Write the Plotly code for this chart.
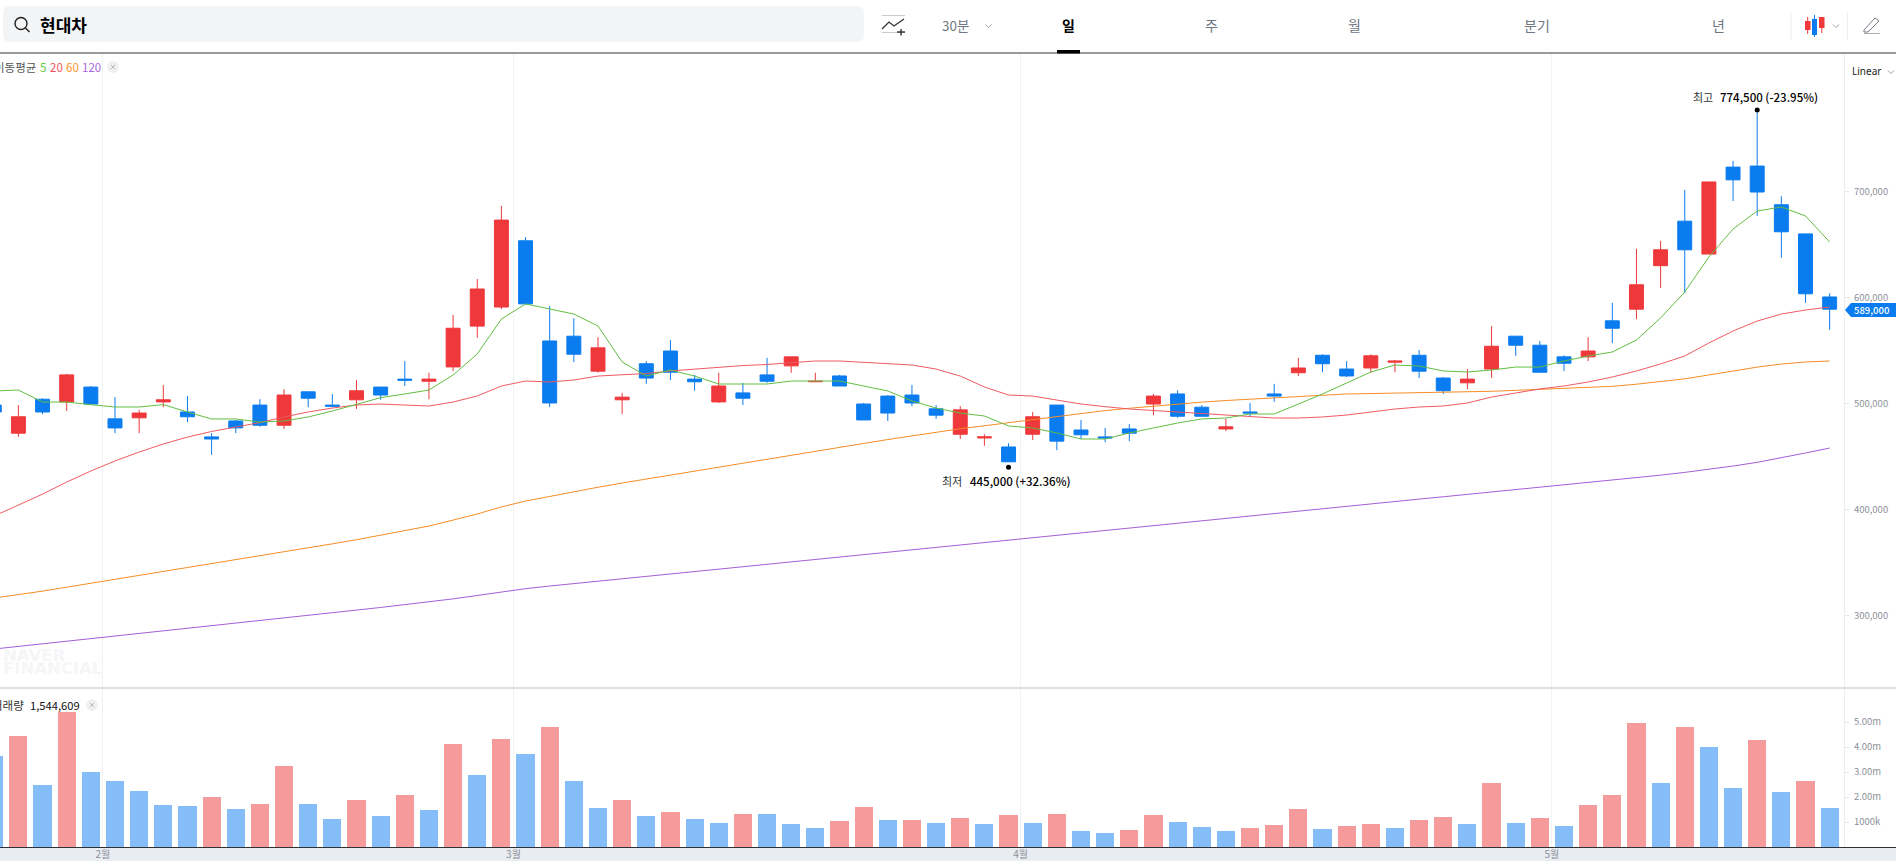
import plotly.graph_objects as go

W, H = 1896, 861

MONTHS = ["2월", "3월", "4월", "5월"]
MONTH_POS = [3.5, 20.5, 41.5, 63.5]

OPEN = [498500,472000,504000,501500,515500,485500,486500,501500,492000,468500,483500,498500,479500,511000,498500,503500,515500,523000,521000,534500,573000,591000,653500,559000,563500,530500,503500,537500,549500,523000,501500,510000,527000,535500,520500,526000,499500,507000,508000,495000,471000,467500,459000,471000,498500,475000,468500,476000,499500,509000,496500,476000,492000,509000,529000,545500,532500,533500,539000,545500,524000,519500,532500,563500,555000,544000,544000,578000,589000,630000,672000,641000,723000,724000,687500,660000,600500]
HIGH = [498500,498500,505000,528000,516500,506000,494000,517500,507000,472000,484500,504000,513500,511000,509000,522000,515500,540000,529000,583500,617500,686500,657000,592000,580500,562500,510000,540000,560000,527000,529000,519500,543000,544000,529000,527000,500500,508000,517500,498500,497500,471000,462500,492000,498500,484500,477000,480500,509000,512500,498500,485500,500500,518500,543000,546500,540000,546500,541000,550500,525000,532500,573000,563500,559000,545500,562500,595000,646000,653500,701500,709000,729000,774500,695500,660000,604000]
LOW = [492000,468500,490000,493000,499500,472000,472000,496500,482500,451500,472000,478000,476000,496500,496500,495000,503500,516500,504000,530500,562000,589000,594000,496500,539000,529000,490000,518500,522000,512000,500500,498500,519500,529000,520500,516500,484500,483500,497500,485500,466500,460000,445000,465500,456000,466500,463500,464500,489000,486500,488000,474000,488000,501500,526000,529500,525000,529000,529500,524000,509000,513500,524000,545000,529500,530500,540000,557000,579500,609000,604000,641000,691000,677000,637500,595000,569500]
CLOSE = [492000,487500,492000,527000,499500,477000,491000,503500,487500,466500,477000,479500,508000,505000,497500,512000,508000,522000,523000,571000,608000,673000,594000,500500,546500,552500,506000,524000,529500,520500,516500,505000,521000,544000,521000,516500,484500,491000,500500,489000,494000,468500,445000,487500,464500,470500,467500,472000,507000,488000,488000,478000,491000,507000,533500,537500,526000,545000,540000,530500,512000,523000,554000,555000,529500,538000,549500,571000,612000,645000,645000,709000,711000,699500,662000,603500,589000]

MA5 = [511800,512700,501400,501400,498900,496700,496700,498900,492000,485400,485400,482500,483500,487300,492900,499500,505500,509000,512700,526900,546700,579700,593900,589200,584400,573100,539200,525900,531600,525900,518400,518400,518400,521200,521200,521200,516500,511800,502400,495700,491000,488200,478800,476900,472200,466500,466500,472200,476900,481600,485400,486300,490100,490100,499500,509000,519300,529700,536300,535400,530700,529700,531600,534400,534400,540100,544800,548600,559900,580700,605200,638200,664600,681600,685400,676900,652400]
MA20 = [393900,404200,414500,425900,436300,445800,454200,461800,468300,473600,477800,482000,487300,492000,495700,498600,499500,498600,497600,501400,507100,516500,521200,520300,522200,525900,526900,528300,530700,532500,534400,535800,536800,538200,540100,540100,538700,537300,536300,532500,525900,515600,508000,507000,503300,499500,497000,494800,493400,492000,490500,489100,487300,486300,486300,487300,489100,492000,494800,496700,497600,500500,506100,509900,513700,516500,520300,525000,530700,537300,544800,557100,568400,577800,584400,588200,591000]
MA60 = [316500,319500,323000,326700,330400,334000,337700,341300,345000,348600,352200,356000,359800,363700,367600,371500,375600,379800,384400,390000,395800,402400,408000,412300,416800,421000,425000,428800,432600,436400,440100,443800,447500,451200,454900,458600,462300,466000,469600,473000,476200,479000,481800,484700,487800,490800,493300,495500,497600,499500,501300,502800,504100,505400,507000,508200,509000,509400,509800,510000,510300,510800,511500,512400,513300,514200,515000,516200,518200,520500,523300,526900,530700,534300,537200,539200,540100]
MA120 = [268400,270800,273300,275700,278200,280600,283100,285500,288000,290400,292900,295300,297800,300200,302700,305100,307600,310100,312800,315700,318900,322300,325300,327800,330000,332300,334600,336800,339100,341400,343700,346000,348300,350600,352900,355200,357500,359800,362100,364400,366700,369000,371300,373600,375900,378200,380500,382800,385100,387400,389700,392000,394300,396600,398800,401000,403200,405400,407600,409800,412000,414200,416400,418600,420800,423000,425300,427600,430000,432400,435000,437800,441000,444500,448600,453300,458000]

VOLUME = [3640000,4440000,2480000,5400000,3000000,2640000,2240000,1680000,1640000,2000000,1520000,1720000,3240000,1720000,1120000,1880000,1240000,2080000,1480000,4120000,2880000,4320000,3720000,4800000,2640000,1560000,1880000,1240000,1400000,1120000,960000,1320000,1320000,920000,760000,1040000,1600000,1080000,1080000,960000,1160000,920000,1280000,960000,1320000,640000,560000,680000,1280000,1000000,800000,640000,760000,880000,1520000,720000,840000,920000,760000,1080000,1200000,920000,2560000,960000,1160000,840000,1680000,2080000,4960000,2560000,4800000,4000000,2360000,4280000,2200000,2640000,1544609]
VOL_UP = [0,1,0,1,0,0,0,0,0,1,0,1,1,0,0,1,0,1,0,1,0,1,0,1,0,0,1,0,1,0,0,1,0,0,0,1,1,0,1,0,1,0,1,0,1,0,0,1,1,0,0,0,1,1,1,0,1,1,0,1,1,0,1,0,1,0,1,1,1,0,1,0,0,1,0,1,0]

PRICE_TICKS = [300000, 400000, 500000, 600000, 700000]
PRICE_TICK_TEXT = ["300,000", "400,000", "500,000", "600,000", "700,000"]
VOL_TICKS = [1000000, 2000000, 3000000, 4000000, 5000000]
VOL_TICK_TEXT = ["1000k", "2.00m", "3.00m", "4.00m", "5.00m"]

INDEX = list(range(-1, len(OPEN) - 1))
RED, BLUE = "#EF383B", "#0A7CEF"
CJK = "Noto Sans CJK KR"


def px(x):
    return x / W


def py(y):
    return 1 - y / H


fig = go.Figure()
fig.add_trace(go.Candlestick(
    x=INDEX, open=OPEN, high=HIGH, low=LOW, close=CLOSE,
    increasing=dict(line=dict(color=RED, width=1), fillcolor=RED),
    decreasing=dict(line=dict(color=BLUE, width=1), fillcolor=BLUE),
    whiskerwidth=0, xaxis="x", yaxis="y", showlegend=False, hoverinfo="skip",
))
for vals, col in [(MA120, "#A45FD6"), (MA60, "#F88C25"), (MA20, "#EE5A62"), (MA5, "#62BE42")]:
    fig.add_trace(go.Scatter(x=INDEX, y=vals, mode="lines", line=dict(color=col, width=1),
                             xaxis="x", yaxis="y", showlegend=False, hoverinfo="skip"))
fig.add_trace(go.Bar(
    x=INDEX, y=VOLUME, width=0.75,
    marker=dict(color=["#F59B9C" if u else "#85BDF8" for u in VOL_UP], line=dict(width=0)),
    xaxis="x2", yaxis="y2", showlegend=False, hoverinfo="skip",
))

shapes = []


def rect(x0, y0, x1, y1, fill, layer="below"):
    shapes.append(dict(type="rect", xref="paper", yref="paper", x0=px(x0), x1=px(x1), y0=py(y1), y1=py(y0),
                       fillcolor=fill, line=dict(width=0), layer=layer))


def line(x0, y0, x1, y1, col, w=1, layer="above"):
    shapes.append(dict(type="line", xref="paper", yref="paper", x0=px(x0), x1=px(x1), y0=py(y0), y1=py(y1),
                       line=dict(color=col, width=w), layer=layer))


def circle(cx, cy, r, fill="rgba(0,0,0,0)", col=None, w=1):
    shapes.append(dict(type="circle", xref="paper", yref="paper", x0=px(cx - r), x1=px(cx + r),
                       y0=py(cy + r), y1=py(cy - r), fillcolor=fill,
                       line=dict(color=col or fill, width=w if col else 0), layer="above"))


def path(points, fill=None, col=None, w=1):
    d = "M" + " L".join(f"{px(a):.5f},{py(b):.5f}" for a, b in points)
    if fill:
        d += " Z"
    shapes.append(dict(type="path", xref="paper", yref="paper", path=d, fillcolor=fill or "rgba(0,0,0,0)",
                       line=dict(color=col or "rgba(0,0,0,0)", width=w if col else 0), layer="above"))


def chevron(cx, cy, col="#9AA0A8"):
    path([(cx - 3, cy - 1.5), (cx, cy + 1.5), (cx + 3, cy - 1.5)], col=col)


# search bar
x0, x1, y0, y1, r = 3, 864, 6, 42, 7
shapes.append(dict(
    type="path", xref="paper", yref="paper", layer="below", fillcolor="#F3F4F6", line=dict(width=0),
    path=(f"M{px(x0 + r)},{py(y0)} L{px(x1 - r)},{py(y0)} Q{px(x1)},{py(y0)} {px(x1)},{py(y0 + r)} "
          f"L{px(x1)},{py(y1 - r)} Q{px(x1)},{py(y1)} {px(x1 - r)},{py(y1)} L{px(x0 + r)},{py(y1)} "
          f"Q{px(x0)},{py(y1)} {px(x0)},{py(y1 - r)} L{px(x0)},{py(y0 + r)} Q{px(x0)},{py(y0)} {px(x0 + r)},{py(y0)} Z"),
))
circle(21, 23.5, 6, col="#222222", w=1.4)
line(25.5, 28, 29.5, 32, "#222222", 1.5)

# header
line(0, 53, W, 53, "#33363A", 1.2)
rect(1057, 50, 1080, 53.5, "#000000", layer="above")
line(882, 15.5, 905, 15.5, "#C9CCD2", 1)
line(882, 32.5, 905, 32.5, "#C9CCD2", 1)
path([(882, 29), (889, 22), (894, 26), (904, 19)], col="#333333", w=1.3)
line(897, 32, 905, 32, "#222222", 1.3)
line(901, 29, 901, 35.5, "#222222", 1.3)
chevron(988.5, 26)
line(1791, 12, 1791, 40, "#ECEEF0")
line(1847.5, 12, 1847.5, 40, "#ECEEF0")
line(1807.7, 17, 1807.7, 34, RED)
rect(1805, 21, 1810.5, 30, RED, layer="above")
line(1814.5, 15, 1814.5, 37, BLUE)
rect(1812, 19, 1817, 35, BLUE, layer="above")
line(1821.8, 17, 1821.8, 33, RED)
rect(1819, 17, 1824.5, 28, RED, layer="above")
chevron(1836, 26)
path([(1864, 30), (1875, 18), (1879, 21), (1868, 32), (1864, 32), (1864, 30)], col="#777B82")
line(1864, 33.5, 1880, 33.5, "#A8ACB2")

# panels
rect(0, 848, W, H, "#E9ECF1")
line(0, 688, W, 688, "#BCC4CB", 1.2)
line(0, 847.5, W, 847.5, "#2E3135", 1.2)
circle(113, 67, 6, fill="#F0F0F2")
line(110.8, 64.8, 115.2, 69.2, "#BBBBBB")
line(110.8, 69.2, 115.2, 64.8, "#BBBBBB")
circle(92, 705, 6, fill="#F0F0F2")
line(89.8, 702.8, 94.2, 707.2, "#BBBBBB")
line(89.8, 707.2, 94.2, 702.8, "#BBBBBB")
chevron(1891, 72)

# last price tag
path([(1845, 310), (1851, 303), (1896, 303), (1896, 317), (1851, 317)], fill=BLUE)

# high / low dots anchored to the data
hi = max(range(len(HIGH)), key=lambda k: HIGH[k])
lo = min(range(len(LOW)), key=lambda k: LOW[k])
for i, val, a, b in [(hi, HIGH[hi], 0, 5), (lo, LOW[lo], -8, -3)]:
    shapes.append(dict(type="circle", xref="x", yref="y", xsizemode="pixel", ysizemode="pixel",
                       xanchor=INDEX[i], yanchor=val, x0=-2.5, x1=2.5, y0=a, y1=b,
                       fillcolor="#000000", line=dict(width=0), layer="above"))

ann = []


def text(x, y, s, size=12, col="#000000", anchor="left", weight=None, family=CJK):
    f = dict(family=family, size=size, color=col)
    if weight:
        f["weight"] = weight
    ann.append(dict(xref="paper", yref="paper", x=px(x), y=py(y), text=s, showarrow=False, xanchor=anchor,
                    yanchor="middle", font=f, align=anchor, borderpad=0))


text(38.5, 24.5, "현대차", 17, "#000000", weight=700)
text(955.5, 25.5, "30분", 13.5, "#70757F", "center")
text(1068.6, 25, "일", 14, "#000000", "center", weight=700)
text(1211, 25.5, "주", 14, "#70757F", "center")
text(1354, 25.5, "월", 14, "#70757F", "center")
text(1536.6, 25.5, "분기", 14, "#70757F", "center")
text(1718.5, 25.5, "년", 14, "#70757F", "center")
text(36.5, 66.5, "이동평균", 11.5, "#555555", "right")
text(38.5, 66.5, "5", 11.5, "#5FC93E")
text(49, 66.5, "20", 11.5, "#F4525A")
text(65, 66.5, "60", 11.5, "#FA9430")
text(81, 66.5, "120", 11.5, "#A968DC")
text(25, 704.5, "거래량", 11.5, "#333333", "right")
text(28.5, 704.5, "1,544,609", 11.2, "#111111")
text(1851, 71, "Linear", 10, "#222222", family="Noto Sans")
text(1871, 309.5, "589,000", 9.5, "#FFFFFF", "center", weight=500)
text(1692, 97, "최고", 11, "#333333")
text(1719, 97, "774,500 (-23.95%)", 11.5, "#000000", weight=500)
text(941, 481.5, "최저", 11, "#333333")
text(968.5, 481.5, "445,000 (+32.36%)", 11.5, "#000000", weight=500)
text(2, 655, "NAVER", 16.5, "#F5F6F8", weight=700, family="DejaVu Sans")
text(2, 668.5, "FINANCIAL", 16.5, "#F5F6F8", weight=700, family="DejaVu Sans")

spacing = 24.15
x_left = -18.4 / spacing
x_right = (1844 - 18.4) / spacing
tick_font = dict(family=CJK, size=9.5, color="#8C9099")
common_x = dict(range=[x_left, x_right], domain=[0, 1844 / W], tickmode="array", tickvals=MONTH_POS,
                showgrid=True, gridcolor="#F1F2F4", gridwidth=1, zeroline=False, rangeslider=dict(visible=False))


def price_of(y):
    return 500000 + (403.5 - y) * 100000 / 106


fig.update_layout(
    width=W, height=H, margin=dict(l=0, r=0, t=0, b=0), paper_bgcolor="#FFFFFF", plot_bgcolor="#FFFFFF",
    showlegend=False, bargap=0, boxgap=0.24, boxgroupgap=0.24, shapes=shapes, annotations=ann, dragmode=False,
    xaxis=dict(anchor="y", showticklabels=False, ticks="", **common_x),
    xaxis2=dict(anchor="y2", matches="x", ticktext=MONTHS, ticks="", tickfont=dict(family=CJK, size=10, color="#8C9099"),
                **common_x),
    yaxis=dict(domain=[py(688), py(53)], range=[price_of(688), price_of(53)], side="right", anchor="x",
               tickmode="array", tickvals=PRICE_TICKS, ticktext=PRICE_TICK_TEXT, tickfont=tick_font,
               ticks="outside", ticklen=4, tickcolor="#E6E8EC", ticklabelstandoff=3, showgrid=False, zeroline=False,
               showline=True, linecolor="#ECEEF1"),
    yaxis2=dict(domain=[py(847), py(688)], range=[0, (847 - 688) * 40000], side="right", anchor="x2",
                tickmode="array", tickvals=VOL_TICKS, ticktext=VOL_TICK_TEXT, tickfont=tick_font,
                ticks="outside", ticklen=4, tickcolor="#E6E8EC", ticklabelstandoff=3, showgrid=False, zeroline=False,
                showline=True, linecolor="#ECEEF1"),
)
fig.write_html("out.html", config=dict(displayModeBar=False),
               post_script="document.body.style.margin='0';document.body.style.overflow='hidden';")
